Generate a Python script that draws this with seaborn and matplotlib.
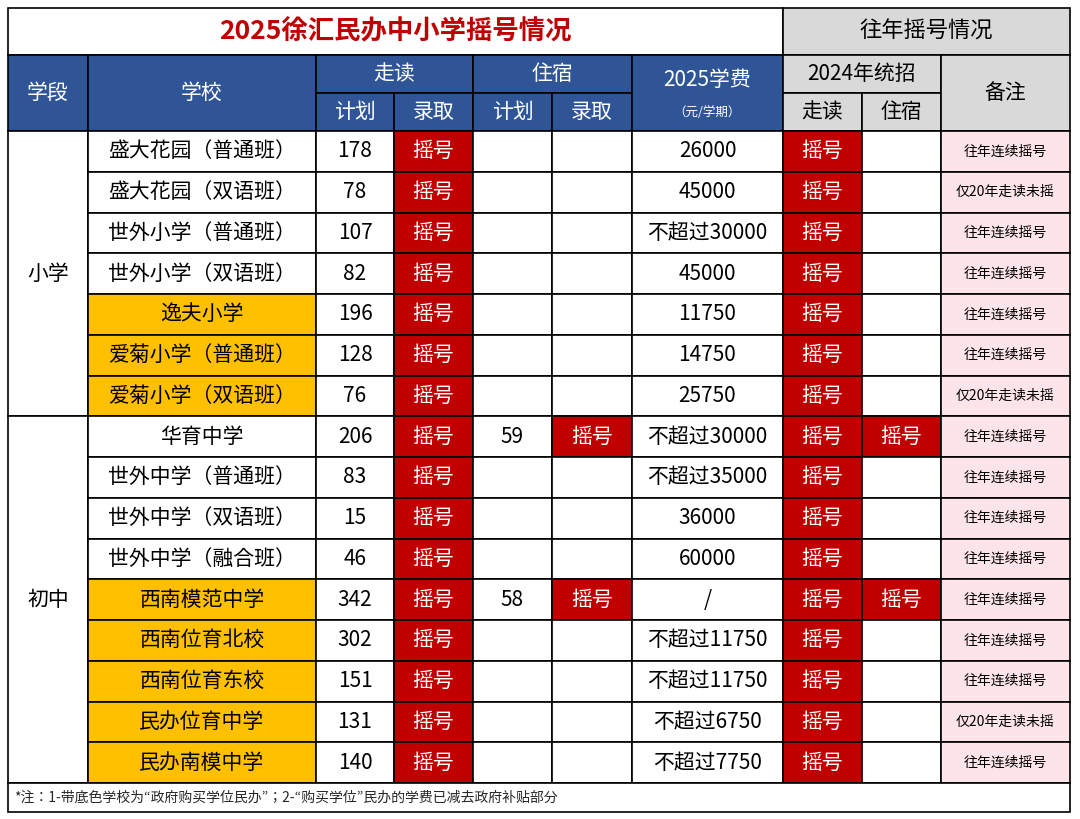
import matplotlib
matplotlib.use("Agg")
import matplotlib.pyplot as plt
from matplotlib import font_manager
from matplotlib.patches import Rectangle
import seaborn as sns

sns.set_theme(style="white")
avail = {f.name for f in font_manager.fontManager.ttflist}
cands = [n for n in ["Noto Sans CJK SC", "Noto Sans CJK JP", "Noto Sans CJK TC", "Noto Sans CJK KR",
                     "Noto Serif CJK SC", "Noto Sans SC"] if n in avail]
plt.rcParams["font.family"] = "sans-serif"
plt.rcParams["font.sans-serif"] = cands + ["DejaVu Sans"]

schools = ["盛大花园（普通班）", "盛大花园（双语班）", "世外小学（普通班）", "世外小学（双语班）",
           "逸夫小学", "爱菊小学（普通班）", "爱菊小学（双语班）",
           "华育中学", "世外中学（普通班）", "世外中学（双语班）", "世外中学（融合班）",
           "西南模范中学", "西南位育北校", "西南位育东校", "民办位育中学", "民办南模中学"]
highlight = [0, 0, 0, 0, 1, 1, 1, 0, 0, 0, 0, 1, 1, 1, 1, 1]
plan_walk = ["178", "78", "107", "82", "196", "128", "76", "206", "83", "15", "46", "342", "302", "151", "131", "140"]
admit_walk = ["摇号"] * 16
plan_board = ["", "", "", "", "", "", "", "59", "", "", "", "58", "", "", "", ""]
admit_board = ["", "", "", "", "", "", "", "摇号", "", "", "", "摇号", "", "", "", ""]
fees = ["26000", "45000", "不超过30000", "45000", "11750", "14750", "25750",
        "不超过30000", "不超过35000", "36000", "60000", "/", "不超过11750", "不超过11750",
        "不超过6750", "不超过7750"]
last_walk = ["摇号"] * 16
last_board = ["", "", "", "", "", "", "", "摇号", "", "", "", "摇号", "", "", "", ""]
notes = ["往年连续摇号", "仅20年走读未摇", "往年连续摇号", "往年连续摇号", "往年连续摇号", "往年连续摇号",
         "仅20年走读未摇", "往年连续摇号", "往年连续摇号", "往年连续摇号", "往年连续摇号", "往年连续摇号",
         "往年连续摇号", "往年连续摇号", "仅20年走读未摇", "往年连续摇号"]
stages = [("小学", 0, 7), ("初中", 7, 16)]

RED = "#c00000"; ORANGE = "#ffc000"; BLUE = "#2f5597"; GREY = "#d9d9d9"; PINK = "#fce4e8"
xs = [8, 88, 316, 394, 473, 552, 632, 783, 862, 941, 1070]
top = 131; bottom = 783
rh = (bottom - top) / len(schools)

fig = plt.figure(figsize=(10.8, 8.19), dpi=100)
ax = fig.add_axes([0, 0, 1, 1])
ax.set_xlim(0, 1080); ax.set_ylim(819, 0); ax.axis("off")

def cell(x0, y0, x1, y1, fc="white", text="", color="black", size=15, lw=1.2, bold=False):
    ax.add_patch(Rectangle((x0, y0), x1 - x0, y1 - y0, facecolor=fc, edgecolor="black", lw=lw))
    if text:
        ax.text((x0 + x1) / 2, (y0 + y1) / 2, text, ha="center", va="center", color=color,
                fontsize=size, fontweight="bold" if bold else "normal")

cell(8, 8, 783, 55, text="2025徐汇民办中小学摇号情况", color=RED, size=19, bold=True)
cell(783, 8, 1070, 55, fc=GREY, text="往年摇号情况", size=16)
W = "white"
cell(8, 55, 88, 131, fc=BLUE, text="学段", color=W, size=15)
cell(88, 55, 316, 131, fc=BLUE, text="学校", color=W, size=15)
cell(316, 55, 473, 93, fc=BLUE, text="走读", color=W, size=15)
cell(316, 93, 394, 131, fc=BLUE, text="计划", color=W, size=15)
cell(394, 93, 473, 131, fc=BLUE, text="录取", color=W, size=15)
cell(473, 55, 632, 93, fc=BLUE, text="住宿", color=W, size=15)
cell(473, 93, 552, 131, fc=BLUE, text="计划", color=W, size=15)
cell(552, 93, 632, 131, fc=BLUE, text="录取", color=W, size=15)
cell(632, 55, 783, 131, fc=BLUE)
ax.text(707, 80, "2025学费", ha="center", va="center", color=W, fontsize=15)
ax.text(707, 112, "（元/学期）", ha="center", va="center", color=W, fontsize=9)
cell(783, 55, 941, 93, fc=GREY, text="2024年统招", size=15)
cell(783, 93, 862, 131, fc=GREY, text="走读", size=15)
cell(862, 93, 941, 131, fc=GREY, text="住宿", size=15)
cell(941, 55, 1070, 131, fc=GREY, text="备注", size=15)

for name, a, b in stages:
    cell(8, top + a * rh, 88, top + b * rh, text=name, size=15)

for i in range(len(schools)):
    y0 = top + i * rh; y1 = y0 + rh
    cell(88, y0, 316, y1, fc=ORANGE if highlight[i] else "white", text=schools[i], size=15)
    cell(316, y0, 394, y1, text=plan_walk[i], size=15)
    cell(394, y0, 473, y1, fc=RED if admit_walk[i] else "white", text=admit_walk[i], color=W, size=15)
    cell(473, y0, 552, y1, text=plan_board[i], size=15)
    cell(552, y0, 632, y1, fc=RED if admit_board[i] else "white", text=admit_board[i], color=W, size=15)
    cell(632, y0, 783, y1, text=fees[i], size=15)
    cell(783, y0, 862, y1, fc=RED if last_walk[i] else "white", text=last_walk[i], color=W, size=15)
    cell(862, y0, 941, y1, fc=RED if last_board[i] else "white", text=last_board[i], color=W, size=15)
    cell(941, y0, 1070, y1, fc=PINK, text=notes[i], size=10)

cell(8, 783, 1070, 812)
ax.text(14, 798, "*注：1-带底色学校为“政府购买学位民办”；2-“购买学位”民办的学费已减去政府补贴部分",
        ha="left", va="center", fontsize=10)

fig.savefig("out.png", dpi=100)
